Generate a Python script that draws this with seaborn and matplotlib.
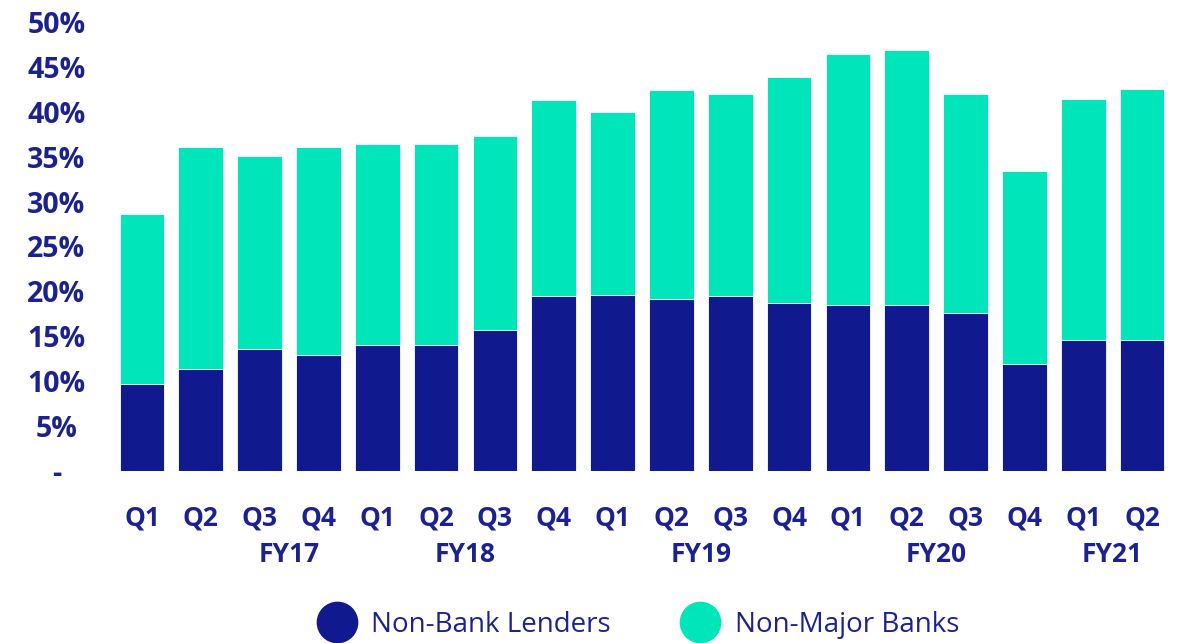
import numpy as np
import pandas as pd
import matplotlib
matplotlib.use("Agg")
import matplotlib.pyplot as plt
import seaborn as sns
from matplotlib.lines import Line2D

# Quarterly share of lending (%)
quarters = ["Q1", "Q2", "Q3", "Q4", "Q1", "Q2", "Q3", "Q4", "Q1",
            "Q2", "Q3", "Q4", "Q1", "Q2", "Q3", "Q4", "Q1", "Q2"]
non_bank = [9.7, 11.4, 13.6, 12.9, 14.0, 14.0, 15.7, 19.5, 19.6,
            19.2, 19.5, 18.7, 18.5, 18.5, 17.6, 11.9, 14.6, 14.6]
non_major = [18.9, 24.7, 21.5, 23.2, 22.4, 22.4, 21.6, 21.8, 20.4,
             23.2, 22.5, 25.2, 27.9, 28.4, 24.4, 21.5, 26.8, 27.9]
fiscal_years = ["FY17", "FY18", "FY19", "FY20", "FY21"]
fy_positions = [2.5, 5.5, 9.5, 13.5, 16.5]
y_ticks = [0, 5, 10, 15, 20, 25, 30, 35, 40, 45, 50]
y_labels = ["-", "5%", "10%", "15%", "20%", "25%", "30%", "35%", "40%", "45%", "50%"]
series_names = ["Non-Bank Lenders", "Non-Major Banks"]

NAVY = "#101a8e"
TEAL = "#00e6ba"
TEXT = "#1b2290"

sns.set_theme(style="white")
plt.rcParams["font.family"] = ["Open Sans", "DejaVu Sans"]

df = pd.DataFrame({
    "pos": [str(i) for i in range(len(quarters))],
    "non_bank": non_bank,
    "total": np.array(non_bank) + np.array(non_major),
})

fig = plt.figure(figsize=(11.78, 6.43), dpi=100)
ax = fig.add_axes([0.0956, 0.2675, 0.8988, 0.6983])

sns.barplot(data=df, x="pos", y="total", color=TEAL, saturation=1,
            width=0.76, ax=ax, edgecolor="white", linewidth=0.6)
sns.barplot(data=df, x="pos", y="non_bank", color=NAVY, saturation=1,
            width=0.76, ax=ax, edgecolor="white", linewidth=0.6)

ax.set_xlim(-0.5, len(quarters) - 0.5)
ax.set_ylim(0, 50)
ax.set_yticks(y_ticks)
ax.set_yticklabels(y_labels)
ax.set_xticks(range(len(quarters)))
ax.set_xticklabels(quarters)
ax.set_xlabel("")
ax.set_ylabel("")
for s in ax.spines.values():
    s.set_visible(False)
ax.tick_params(axis="both", length=0, colors=TEXT)
ax.tick_params(axis="x", pad=24, labelsize=19)
ax.tick_params(axis="y", pad=40.5, labelsize=20.5)
for lab in ax.get_xticklabels():
    lab.set_fontweight("bold")
    lab.set_color(TEXT)
for lab in ax.get_yticklabels():
    lab.set_fontweight("bold")
    lab.set_color(TEXT)
    lab.set_horizontalalignment("center")

# Fiscal-year group labels beneath the quarter labels
for fy, xp in zip(fiscal_years, fy_positions):
    ax.text(xp, -9.3, fy, ha="center", va="center", fontsize=19,
            fontweight="bold", color=TEXT, transform=ax.transData,
            clip_on=False)

handles = [Line2D([0], [0], marker="o", linestyle="", markersize=29,
                  markerfacecolor=c, markeredgecolor=c) for c in (NAVY, TEAL)]
leg = fig.legend(handles, series_names, loc="center", ncol=2,
                 bbox_to_anchor=(0.541, 0.028), frameon=False,
                 fontsize=20, handlelength=1.5, handletextpad=0.5,
                 columnspacing=2.45)
for t in leg.get_texts():
    t.set_color(TEXT)

fig.savefig("out.png", dpi=100)
